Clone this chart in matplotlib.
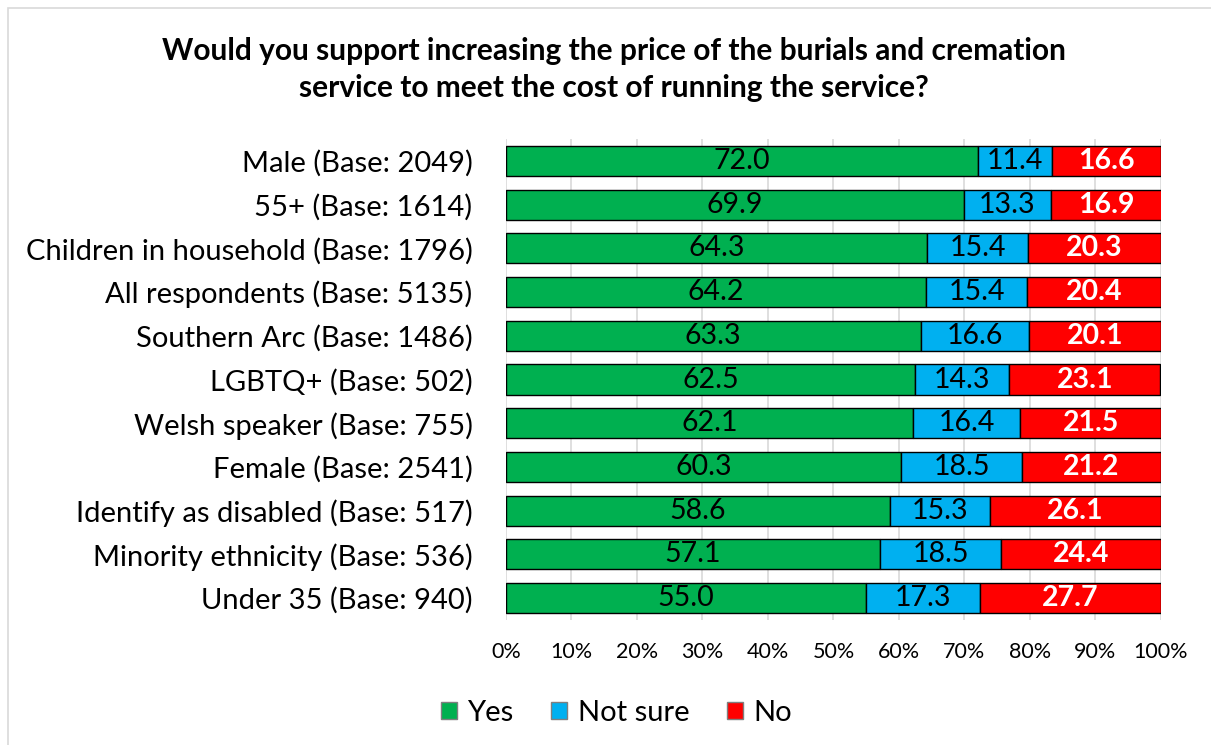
import numpy as np
import matplotlib.pyplot as plt
from matplotlib.patches import Rectangle, Patch

categories = [
    'Male (Base: 2049)',
    '55+ (Base: 1614)',
    'Children in household (Base: 1796)',
    'All respondents (Base: 5135)',
    'Southern Arc (Base: 1486)',
    'LGBTQ+ (Base: 502)',
    'Welsh speaker (Base: 755)',
    'Female (Base: 2541)',
    'Identify as disabled (Base: 517)',
    'Minority ethnicity (Base: 536)',
    'Under 35 (Base: 940)',
]
yes = [72.0, 69.9, 64.3, 64.2, 63.3, 62.5, 62.1, 60.3, 58.6, 57.1, 55.0]
not_sure = [11.4, 13.3, 15.4, 15.4, 16.6, 14.3, 16.4, 18.5, 15.3, 18.5, 17.3]
no = [16.6, 16.9, 20.3, 20.4, 20.1, 23.1, 21.5, 21.2, 26.1, 24.4, 27.7]

GREEN = '#00b050'
BLUE = '#00b0f0'
RED = '#ff0000'

plt.rcParams['font.family'] = ['Lato', 'DejaVu Sans']


def main():
    fig = plt.figure(figsize=(12.11, 7.45), dpi=100)
    ax = fig.add_axes([0.4178, 0.1678, 0.5409, 0.6456])

    y = np.arange(len(categories))
    yes_a = np.array(yes)
    ns_a = np.array(not_sure)
    no_a = np.array(no)
    h = 0.69

    ax.barh(y, yes_a, height=h, color=GREEN, edgecolor='black', linewidth=1, zorder=3)
    ax.barh(y, ns_a, left=yes_a, height=h, color=BLUE, edgecolor='black', linewidth=1, zorder=3)
    ax.barh(y, no_a, left=yes_a + ns_a, height=h, color=RED, edgecolor='black', linewidth=1, zorder=3)

    for i in range(len(categories)):
        ax.text(yes_a[i] / 2, y[i], f'{yes_a[i]:.1f}', ha='center', va='center',
                fontsize=20.5, color='black', zorder=4)
        ax.text(yes_a[i] + ns_a[i] / 2, y[i], f'{ns_a[i]:.1f}', ha='center', va='center',
                fontsize=20.5, color='black', zorder=4)
        ax.text(yes_a[i] + ns_a[i] + no_a[i] / 2, y[i], f'{no_a[i]:.1f}', ha='center',
                va='center', fontsize=20.5, color='white', fontweight='bold', zorder=4)

    ax.set_xlim(0, 100)
    ax.set_ylim(len(categories) - 0.5, -0.5)
    ax.set_xticks(np.arange(0, 101, 10))
    ax.set_xticklabels([f'{v}%' for v in range(0, 101, 10)], fontsize=15.5)
    ax.set_yticks(y)
    ax.set_yticklabels(categories, fontsize=21)
    ax.tick_params(axis='both', length=0)
    ax.tick_params(axis='x', pad=16)
    ax.tick_params(axis='y', pad=24)
    ax.grid(axis='x', color='#d9d9d9', linewidth=1.2, zorder=0)
    for s in ax.spines.values():
        s.set_visible(False)

    fig.text(0.507, 0.907, 'Would you support increasing the price of the burials and cremation\n'
             'service to meet the cost of running the service?',
             ha='center', va='center', fontsize=21.5, fontweight='bold', linespacing=1.4)

    handles = [Patch(facecolor=GREEN, edgecolor='#7f7f7f', label='Yes'),
               Patch(facecolor=BLUE, edgecolor='#7f7f7f', label='Not sure'),
               Patch(facecolor=RED, edgecolor='#7f7f7f', label='No')]
    fig.legend(handles=handles, loc='center', bbox_to_anchor=(0.509, 0.043), ncol=3,
               frameon=False, fontsize=21, handlelength=0.55, handleheight=0.55,
               handletextpad=0.35, columnspacing=1.3)

    fig.patches.append(Rectangle((0.007, -0.01), 1.1, 0.999, transform=fig.transFigure,
                                 fill=False, edgecolor='#d9d9d9', linewidth=1.2))

    fig.savefig('out.png', dpi=100)


if __name__ == '__main__':
    main()
